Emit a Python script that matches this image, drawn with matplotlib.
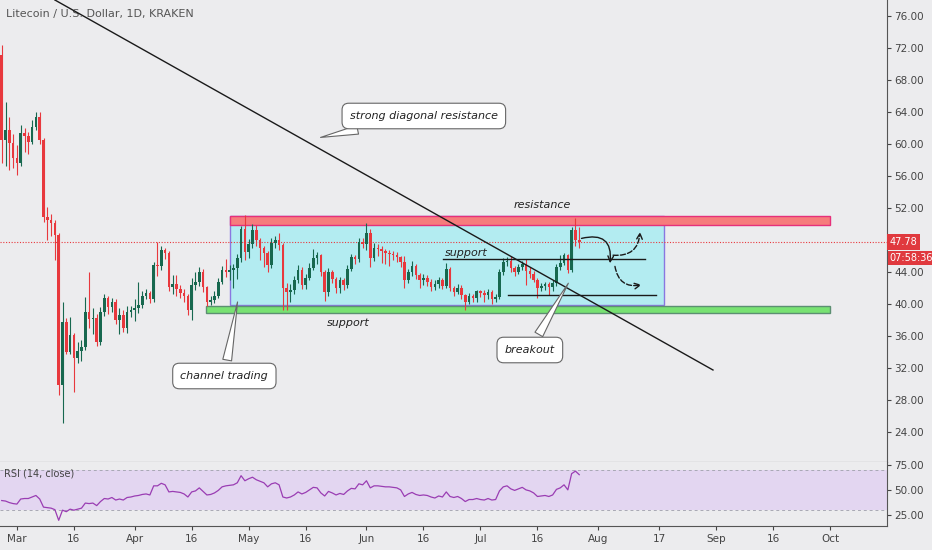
import numpy as np
import pandas as pd
import matplotlib
matplotlib.use("Agg")
import matplotlib.pyplot as plt
from matplotlib.patches import Rectangle
import matplotlib.transforms as mtransforms

# daily candles LTC/USD, 2020-02-26 .. 2020-07-27
start_date = "2020-02-26"
first_open = 71.1
closes = [60.5, 61.75, 60.1, 58.25, 57.6, 61.4, 61.0, 60.3, 62.1, 63.4,
          60.5, 50.9, 50.5, 50.1, 48.6, 29.9, 37.75, 34.0, 36.1, 33.3,
          34.1, 34.6, 39.0, 38.1, 38.3, 35.3, 39.0, 40.75, 39.6, 40.2,
          38.0, 38.6, 37.0, 39.0, 39.3, 39.5, 39.9, 41.0, 41.4, 40.6,
          44.9, 44.7, 46.75, 46.4, 42.1, 42.5, 41.9, 41.4, 41.0, 39.25,
          42.4, 42.7, 44.0, 42.1, 40.25, 40.5, 41.0, 42.75, 44.25, 44.0,
          44.3, 44.5, 45.75, 49.4, 46.5, 47.5, 49.25, 48.0, 47.0, 46.4,
          44.9, 47.6, 48.0, 47.4, 42.0, 41.5, 41.8, 43.0, 44.3, 42.4,
          43.3, 44.5, 45.75, 46.1, 44.0, 41.5, 44.0, 43.1, 42.0, 43.0,
          42.4, 44.4, 45.9, 45.6, 47.8, 47.5, 48.9, 45.8, 47.0, 46.9,
          46.6, 46.4, 46.2, 46.1, 45.9, 45.25, 43.0, 44.0, 44.8, 43.6,
          43.0, 43.2, 42.8, 42.1, 42.5, 43.0, 42.3, 44.4, 42.0, 41.5,
          42.0, 41.1, 40.2, 41.0, 40.7, 41.6, 41.4, 41.1, 41.5, 40.6,
          40.9, 44.0, 45.25, 45.4, 44.5, 44.0, 44.6, 45.0, 44.1, 43.8,
          43.0, 42.0, 42.3, 42.5, 42.1, 42.6, 44.6, 45.1, 46.1, 44.2,
          49.25, 48.0, 47.78]
highs = [72.4, 65.3, 63.4, 61.2, 59.9, 62.4, 62.0, 61.5, 63.0, 64.0,
         64.0, 60.8, 52.1, 51.2, 50.5, 48.9, 40.25, 38.2, 38.4, 36.4,
         35.2, 35.5, 40.9, 44.0, 39.5, 38.8, 39.6, 41.2, 41.0, 40.8,
         40.6, 39.5, 39.3, 39.7, 39.8, 40.6, 42.75, 41.6, 41.9, 41.6,
         45.3, 47.75, 47.2, 47.0, 46.6, 43.6, 43.6, 42.4, 41.9, 41.2,
         43.2, 44.0, 44.6, 44.4, 42.3, 41.0, 41.6, 43.3, 44.8, 45.6,
         44.9, 45.0, 46.3, 49.8, 51.1, 48.1, 50.0, 49.9, 48.3, 47.3,
         46.6, 48.3, 48.5, 48.9, 47.6, 42.6, 42.5, 43.5, 44.9, 44.6,
         43.8, 45.1, 46.9, 46.5, 46.3, 44.2, 44.5, 44.3, 43.4, 43.4,
         43.2, 44.9, 46.3, 46.1, 48.3, 48.3, 50.1, 49.4, 47.6, 47.5,
         47.3, 46.9, 46.7, 46.6, 46.5, 46.0, 46.0, 44.4, 45.4, 45.0,
         43.9, 43.7, 43.6, 43.1, 43.0, 43.4, 43.3, 45.1, 44.6, 42.3,
         42.5, 42.4, 41.3, 41.4, 41.3, 41.8, 41.8, 41.8, 41.9, 41.7,
         41.2, 44.4, 45.8, 45.9, 46.0, 44.7, 45.0, 45.4, 45.6, 44.6,
         44.1, 43.2, 42.6, 42.8, 42.8, 43.0, 45.0, 46.1, 46.4, 46.3,
         49.6, 50.75, 49.6]
lows = [57.6, 57.2, 56.75, 57.0, 56.1, 57.2, 59.0, 58.7, 60.0, 61.8,
        60.0, 50.3, 48.0, 48.5, 45.5, 28.6, 25.1, 33.7, 33.8, 29.0,
        32.6, 32.9, 34.2, 37.0, 36.2, 34.8, 34.9, 38.5, 38.7, 39.0,
        37.5, 36.3, 36.5, 36.4, 38.4, 37.9, 38.9, 39.5, 40.6, 40.1,
        40.3, 43.5, 44.2, 45.6, 41.6, 41.2, 41.0, 40.8, 40.3, 38.6,
        38.0, 41.8, 42.2, 41.5, 39.8, 39.9, 40.1, 40.8, 42.5, 43.4,
        43.0, 42.0, 43.1, 45.3, 45.5, 45.8, 47.0, 47.2, 45.5, 44.6,
        44.0, 44.5, 47.0, 46.8, 39.3, 39.3, 40.3, 41.2, 42.6, 41.9,
        41.9, 43.0, 44.3, 45.0, 43.5, 40.4, 41.0, 42.6, 41.4, 41.4,
        41.8, 42.0, 44.1, 45.0, 45.3, 47.0, 46.8, 44.6, 45.4, 46.0,
        45.1, 45.0, 44.8, 45.5, 45.2, 44.6, 42.0, 42.6, 43.5, 43.1,
        42.0, 42.4, 42.3, 41.6, 41.8, 42.0, 41.9, 42.0, 41.6, 41.0,
        41.2, 40.6, 39.25, 40.0, 40.2, 40.3, 40.9, 40.3, 40.6, 40.0,
        40.3, 40.6, 43.6, 44.7, 44.0, 43.5, 43.8, 44.2, 42.4, 43.2,
        42.7, 40.75, 41.6, 41.8, 41.1, 41.6, 42.2, 44.2, 44.9, 43.9,
        44.0, 47.2, 47.0]
rsi = [39.5, 39, 37.5, 36.5, 36, 41, 41.5, 41.5, 43, 44.5,
       41, 33, 32.5, 32, 30.5, 20, 30, 28.5, 31, 30,
       31, 32, 37, 36.5, 37, 34.5, 38.5, 41.5, 41, 42.5,
       40, 41, 40, 42.5, 43, 44, 44.5, 45.5, 46, 45,
       54, 54, 56.5, 55, 48, 48.5, 48, 47.5, 46, 43,
       48, 49, 52, 48.5, 45, 45.5, 47, 49.5, 53, 54,
       54.5, 55, 57, 64, 59, 61, 62.5, 60, 58.5, 57,
       53, 56, 57, 55, 43, 42, 43, 45, 48, 46,
       47.5, 50, 52.5, 52, 47, 44, 48.5, 47, 45, 46.5,
       45.5, 49, 51.5, 51, 56, 55, 59, 52, 54, 54,
       53.5, 53, 53, 52.5, 52, 50, 43.5, 46, 47.5, 45.5,
       44.5, 45, 44.5, 43, 42, 44, 43, 48, 43.5, 42.5,
       43.5, 41.5, 38.5, 40.5, 40.5, 41.5, 40.5, 40, 41.5, 40,
       40.5, 49, 53, 54, 51, 49.5, 51, 52.5, 50, 49,
       47, 43.5, 44, 44.5, 43.5, 45, 50.5, 52, 55, 50,
       66, 68.5, 65]

last_price = 47.78
countdown = "07:58:36"
price_ticks = [24, 28, 32, 36, 40, 44, 52, 56, 60, 64, 68, 72, 76]
rsi_ticks = [25, 50, 75]
tick_dates = ["2020-03-01", "2020-03-16", "2020-04-01", "2020-04-16", "2020-05-01",
              "2020-05-16", "2020-06-01", "2020-06-16", "2020-07-01", "2020-07-16",
              "2020-08-01", "2020-08-17", "2020-09-01", "2020-09-16", "2020-10-01"]
tick_labels = ["Mar", "16", "Apr", "16", "May", "16", "Jun", "16", "Jul", "16",
               "Aug", "17", "Sep", "16", "Oct"]

BG = "#ececee"
UP = "#17684f"
DOWN = "#e8383d"
TXT = "#444444"

closes = np.array(closes)
opens = np.concatenate([[first_open], closes[:-1]])
highs = np.maximum(np.array(highs), np.maximum(opens, closes))
lows = np.minimum(np.array(lows), np.minimum(opens, closes))
x = np.arange(len(closes))
t0 = pd.Timestamp(start_date)
tick_pos = [(pd.Timestamp(d) - t0).days for d in tick_dates]

fig = plt.figure(figsize=(9.32, 5.5), dpi=100, facecolor=BG)
ax = fig.add_axes([0, 88 / 550, 887 / 932, 462 / 550], facecolor=BG)
rax = fig.add_axes([0, 24 / 550, 887 / 932, 64 / 550], facecolor=BG, sharex=ax)

ax.set_xlim(-0.45, 233)
ax.set_ylim(20.25, 78)

# channel + bands
ax.add_patch(Rectangle((60.1, 39.9), 114.2, 11.1, fc="#b3ecf1", ec="#8a77e0", lw=1, zorder=1))
ax.add_patch(Rectangle((60.1, 49.9), 157.9, 1.15, fc="#f67c7c", ec="#e6307a", lw=1, zorder=2))
ax.add_patch(Rectangle((53.8, 38.9), 164.2, 0.85, fc="#78e272", ec="#5c8f72", lw=1, zorder=2))

# candles
col = np.where(closes >= opens, UP, DOWN)
ax.vlines(x, lows, highs, colors=col, lw=0.8, zorder=3)
body = np.maximum(np.abs(closes - opens), 0.1)
ax.bar(x, body, bottom=np.minimum(opens, closes), width=0.7, color=col, lw=0, zorder=4)

ax.axhline(last_price, color=DOWN, ls=(0, (1, 1.5)), lw=0.8, zorder=2)

# drawings
ax.plot([14.0, 187.2], [78.0, 31.75], color="#1a1a1a", lw=1, zorder=5)
ax.plot([116.1, 169.3], [45.6, 45.6], color="#1a1a1a", lw=1, zorder=5)
ax.plot([133.2, 172.2], [41.1, 41.1], color="#1a1a1a", lw=1, zorder=5)

ax.text(142.4, 52.4, "resistance", style="italic", fontsize=8, color="#222", ha="center", va="center")
ax.text(91.1, 37.6, "support", style="italic", fontsize=8, color="#222", ha="center", va="center")
ax.text(122.2, 46.4, "support", style="italic", fontsize=8, color="#222", ha="center", va="center")

callout = dict(boxstyle="round,pad=0.7,rounding_size=0.6", fc="white", ec="#666666", lw=0.8)
wedge = dict(arrowstyle="wedge,tail_width=0.8,shrink_factor=0.5", fc="white", ec="#666666", lw=0.8)
ax.annotate("strong diagonal resistance", xy=(83.2, 60.75), xytext=(111.1, 63.5), fontsize=8,
            style="italic", color="#222", ha="center", va="center", bbox=callout, arrowprops=wedge, zorder=6)
ax.annotate("channel trading", xy=(62.2, 40.6), xytext=(58.6, 31.0), fontsize=8,
            style="italic", color="#222", ha="center", va="center", bbox=callout, arrowprops=wedge, zorder=6)
ax.annotate("breakout", xy=(149.5, 42.9), xytext=(139.0, 34.25), fontsize=8,
            style="italic", color="#222", ha="center", va="center", bbox=callout, arrowprops=wedge, zorder=6)

arr = dict(arrowstyle="->", color="#1a1a1a", lw=1, shrinkA=0, shrinkB=0)
ax.annotate("", xy=(160.1, 45.1), xytext=(152.6, 48.2),
            arrowprops=dict(arr, connectionstyle="arc3,rad=-0.7"), zorder=6)
ax.annotate("", xy=(168.0, 49.0), xytext=(160.9, 46.1),
            arrowprops=dict(arr, ls="--", connectionstyle="arc3,rad=0.5"), zorder=6)
ax.annotate("", xy=(168.4, 42.4), xytext=(161.4, 44.7),
            arrowprops=dict(arr, ls="--", connectionstyle="arc3,rad=0.5"), zorder=6)

# price axis
ax.yaxis.tick_right()
ax.set_yticks(price_ticks)
ax.set_yticklabels([f"{v:.2f}" for v in price_ticks])
ax.tick_params(axis="y", colors=TXT, labelsize=7.5, length=3, width=0.8, pad=2)
ax.tick_params(axis="x", bottom=False, labelbottom=False)
for s in ["top", "left"]:
    ax.spines[s].set_visible(False)
ax.spines["right"].set_color("#555555")
ax.spines["bottom"].set_color("#555555")

tr = mtransforms.blended_transform_factory(ax.transAxes, ax.transData)
ax.text(1.003, last_price, f"{last_price:.2f}", transform=tr, fontsize=7, color="white", va="center",
        ha="left", bbox=dict(boxstyle="square,pad=0.3", fc="#e0393e", ec="none"), clip_on=False)
ax.text(1.003, last_price - 2.0, countdown, transform=tr, fontsize=7, color="white", va="center",
        ha="left", bbox=dict(boxstyle="square,pad=0.2", fc="#e0393e", ec="none"), clip_on=False)

ax.text(0.007, 0.97, "Litecoin / U.S. Dollar, 1D, KRAKEN", transform=ax.transAxes, fontsize=8,
        color="#555555", va="center", ha="left")

# RSI pane
rax.set_ylim(14.4, 77.5)
rax.axhspan(30, 70, color="#e3d6f1", lw=0, zorder=0)
rax.axhline(70, color="#a8a8b4", ls=(0, (3, 3)), lw=0.7)
rax.axhline(30, color="#a8a8b4", ls=(0, (3, 3)), lw=0.7)
rax.plot(x, rsi, color="#9a3db3", lw=0.9)
rax.yaxis.tick_right()
rax.set_yticks(rsi_ticks)
rax.set_yticklabels([f"{v:.2f}" for v in rsi_ticks])
rax.tick_params(axis="y", colors=TXT, labelsize=7.5, length=3, width=0.8, pad=2)
rax.set_xticks(tick_pos)
rax.set_xticklabels(tick_labels)
rax.tick_params(axis="x", colors=TXT, labelsize=7.5, length=3, width=0.8, pad=3)
rax.spines["left"].set_visible(False)
rax.spines["top"].set_visible(False)
for s in ["right", "bottom"]:
    rax.spines[s].set_color("#555555")
rax.text(0.005, 0.82, "RSI (14, close)", transform=rax.transAxes, fontsize=7, color=TXT, va="center")

fig.savefig("out.png", dpi=100, facecolor=BG)
